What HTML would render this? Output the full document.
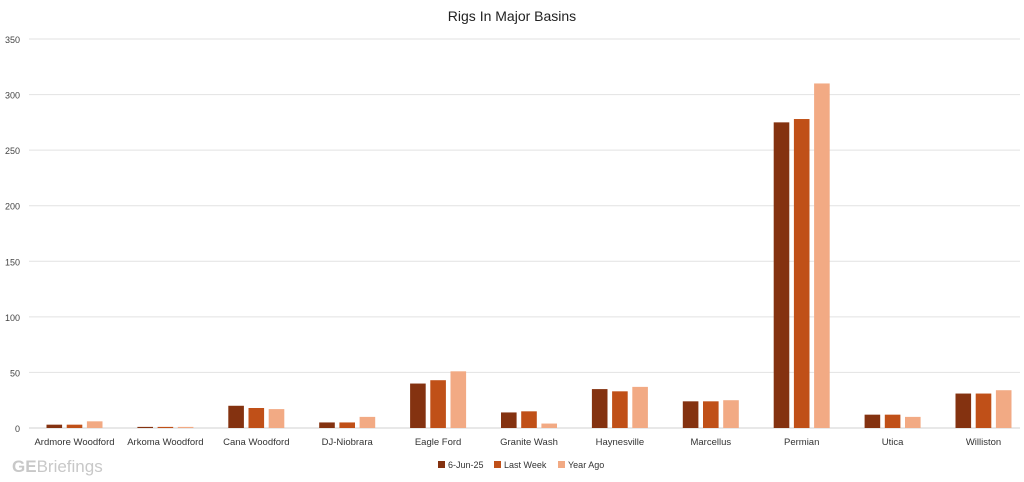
<!DOCTYPE html>
<html><head><meta charset="utf-8"><style>
body{margin:0;background:#fff;font-family:"Liberation Sans",sans-serif;}
</style></head><body>
<svg id="c" width="1024" height="477" xmlns="http://www.w3.org/2000/svg">
<text x="512" y="21" text-anchor="middle" font-size="14" fill="#222">Rigs In Major Basins</text>
<g id="grid"></g><g id="bars"></g><g id="xl"></g>
<text x="12" y="472" font-size="17" fill="#c8c8c8"><tspan font-weight="bold">GE</tspan>Briefings</text>
<g>
<rect x="438" y="461" width="7" height="7" fill="#843210"/><text x="448" y="468" font-size="9" fill="#333">6-Jun-25</text>
<rect x="494" y="461" width="7" height="7" fill="#c05018"/><text x="504" y="468" font-size="9" fill="#333">Last Week</text>
<rect x="558" y="461" width="7" height="7" fill="#f2aa84"/><text x="568" y="468" font-size="9" fill="#333">Year Ago</text>
</g>
</svg>
<script>
const categories=["Ardmore Woodford","Arkoma Woodford","Cana Woodford","DJ-Niobrara","Eagle Ford","Granite Wash","Haynesville","Marcellus","Permian","Utica","Williston"];
const current=[3,1,20,5,40,14,35,24,275,12,31];
const lastWeek=[3,1,18,5,43,15,33,24,278,12,31];
const yearAgo=[6,1,17,10,51,4,37,25,310,10,34];
const ticks=[0,50,100,150,200,250,300,350];
const NS="http://www.w3.org/2000/svg";
const y0=428,y1=39,vmax=350,left=29.05,cw=90.9;
const y=v=>y0-(v/vmax)*(y0-y1);
const xc=i=>left+cw*(i+0.5);
function mk(t,a,p){const e=document.createElementNS(NS,t);for(const k in a)e.setAttribute(k,a[k]);p.appendChild(e);return e;}
const g=document.getElementById('grid');
ticks.forEach(t=>{
 const l=mk('line',{x1:29,x2:1020,y1:y(t),y2:y(t),stroke:t?'#e2e2e2':'#d0d0d0','stroke-width':1},g);
 
 
 const tx=mk('text',{x:20,y:y(t)+4,'text-anchor':'end','font-size':9,fill:'#444'},g);
 tx.textContent=t;
 
 
});
const series=[current,lastWeek,yearAgo],cols=["#843210","#c05018","#f2aa84"],sn=["current","last-week","year-ago"];
const b=document.getElementById('bars'),xl=document.getElementById('xl');
categories.forEach((c,i)=>{
 series.forEach((s,j)=>{
  const r=mk('rect',{x:xc(i)+(j-1)*20.2-7.8,y:y(s[i]),width:15.6,height:y0-y(s[i]),fill:cols[j]},b);
  
  
 });
 const t=mk('text',{x:xc(i),y:445,'text-anchor':'middle','font-size':9.5,fill:'#333'},xl);
 t.textContent=c;
 
 
});
</script>
</body></html>
